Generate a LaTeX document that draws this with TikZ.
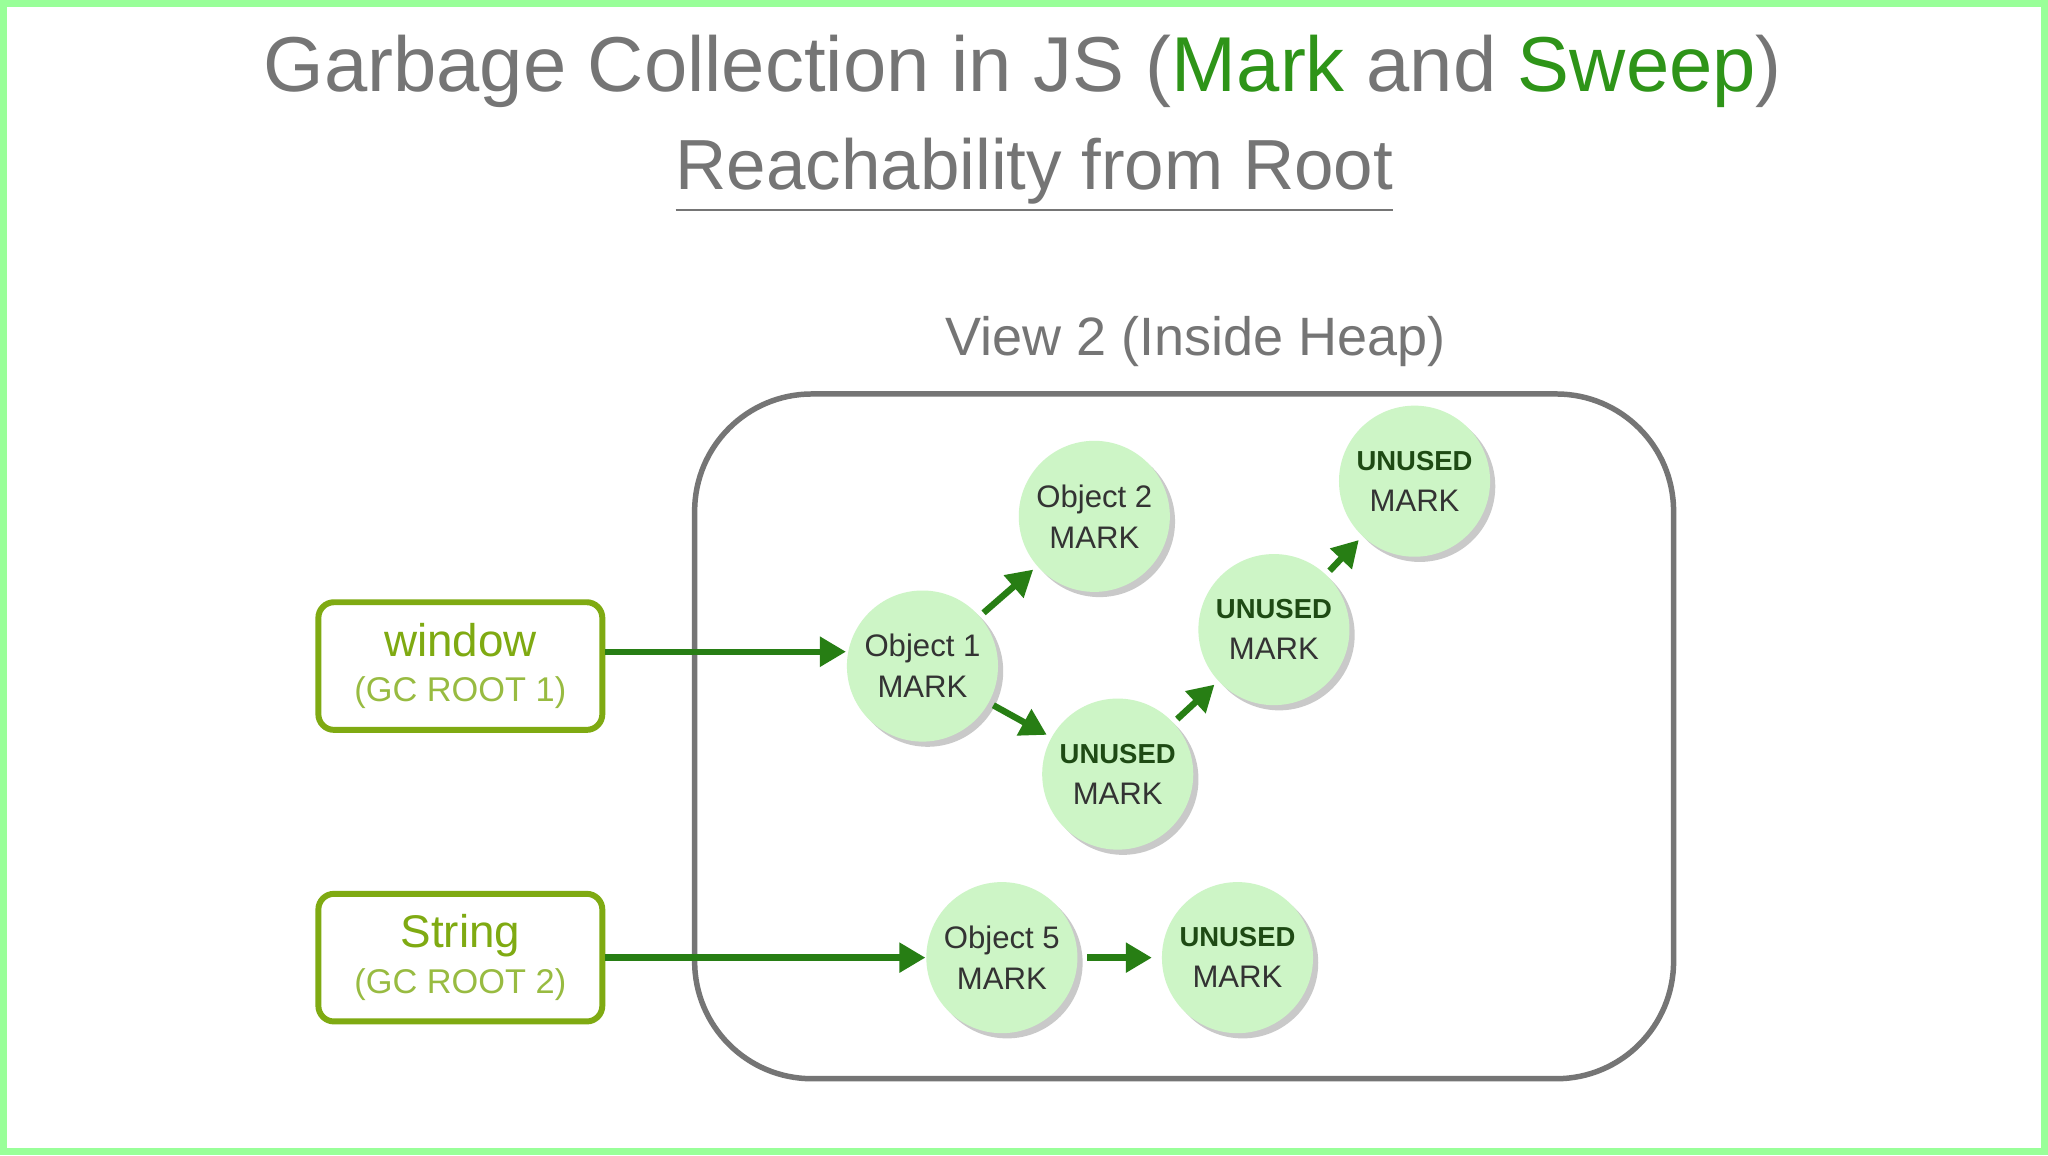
\documentclass[tikz,border=0pt]{standalone}
\usepackage{fontspec}
\setmainfont{Liberation Sans}
\usetikzlibrary{arrows.meta,shadows}
\definecolor{ttl}{HTML}{757575}
\definecolor{grn}{HTML}{2E9418}
\definecolor{olive}{HTML}{7FAA12}
\definecolor{cfill}{HTML}{CDF5C6}
\definecolor{dgrn}{HTML}{1E4A14}
\tikzset{
  obj/.style={circle, minimum size=1.16cm, inner sep=0pt, fill=cfill, align=center,
    font=\fontsize{6.8}{9}\selectfont, text=black!80,
    drop shadow={shadow xshift=0.04cm, shadow yshift=-0.04cm, opacity=0.35, fill=black!60}},
  root/.style={draw=olive, line width=1.3pt, rounded corners=0.12cm, minimum width=2.18cm,
    minimum height=0.98cm, align=center, text=olive},
  link/.style={-{Triangle[length=0.2cm,width=0.22cm]}, draw=grn!85!black, line width=1.4pt}
}
\newcommand{\unused}{{\fontsize{6}{9}\selectfont\bfseries\color{dgrn}UNUSED}\\MARK}
\begin{document}
\begin{tikzpicture}[x=0.01cm,y=-0.01cm]
\fill[white] (0,0) rectangle (1568,882);
\draw[green!40, line width=1.5pt] (0,0) rectangle (1568,882);
% titles
\node[text=ttl, font=\fontsize{17}{20}\selectfont] (title) at (783,52)
  {Garbage Collection in JS ({\color{grn}Mark} and {\color{grn}Sweep})};
\node[text=ttl, font=\fontsize{15.5}{20}\selectfont] (sub) at (792,132)
  {\underline{Reachability from Root}};
\node[text=ttl, font=\fontsize{11.8}{15}\selectfont] (view) at (916,260) {View 2 (Inside Heap)};
% heap
\draw[ttl, line width=1.2pt, rounded corners=0.9cm] (531,300) rectangle (1283,826);
% roots
\node[root] (win) at (351,509) {{\fontsize{10}{12}\selectfont window}\\[-2pt]{\fontsize{7.5}{10}\selectfont\color{olive!80}(GC ROOT 1)}};
\node[root] (str) at (351,733) {{\fontsize{10}{12}\selectfont String}\\[-2pt]{\fontsize{7.5}{10}\selectfont\color{olive!80}(GC ROOT 2)}};
% objects
\node[obj] (o1) at (706,509) {Object 1\\MARK};
\node[obj] (o2) at (838,394) {Object 2\\MARK};
\node[obj] (u1) at (856,592) {\unused};
\node[obj] (u2) at (976,481) {\unused};
\node[obj] (u3) at (1084,367) {\unused};
\node[obj] (o5) at (767,733) {Object 5\\MARK};
\node[obj] (u4) at (948,733) {\unused};
% links
\draw[link] (win.east |- 0,498) -- (o1.west |- 0,498);
\draw[link] (str.east |- o5) -- (o5);
\draw[link, shorten <=1pt, shorten >=1pt] (o1) -- (o2);
\draw[link, shorten <=1pt, shorten >=1pt] (o1) -- (u1);
\draw[link, shorten <=1pt, shorten >=1pt] (u1) -- (u2);
\draw[link, shorten <=1pt, shorten >=1pt] (u2) -- (u3);
\draw[link, shorten <=2pt, shorten >=2pt] (o5) -- (u4);
\end{tikzpicture}
\end{document}
